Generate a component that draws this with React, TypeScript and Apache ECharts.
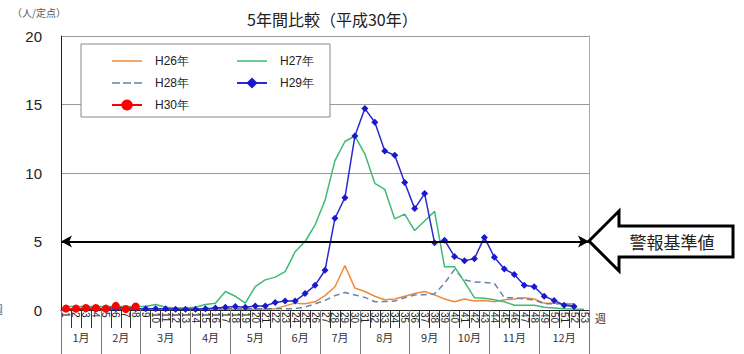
import React, { useEffect, useRef } from "react";
import * as echarts from "echarts";

const weeks = [
  "1","2","3","4","5","6","7","8","9","10","11","12","13","14","15","16","17","18","19","20",
  "21","22","23","24","25","26","27","28","29","30","31","32","33","34","35","36","37","38","39","40",
  "41","42","43","44","45","46","47","48","49","50","51","52","53",
];

const h26 = [
  0.05,0.05,0.05,0.05,0.05,0.05,0.05,0.05,0.05,0.05,0.05,0.05,0.05,0.05,0.05,0.05,0.05,0.05,0.05,0.05,
  0.05,0.1,0.3,0.5,0.45,0.6,1.05,1.7,3.25,1.6,1.35,1.0,0.75,0.8,1.0,1.2,1.35,1.1,0.8,0.6,
  0.8,0.65,0.7,0.6,0.75,0.8,0.9,0.8,0.5,0.5,0.45,0.45,null,
];
const h27 = [
  0.25,0.25,0.25,0.25,0.25,0.25,0.25,0.25,0.25,0.4,0.2,0.15,0.15,0.2,0.4,0.5,1.35,1.0,0.5,1.7,
  2.2,2.4,2.8,4.25,5.0,6.2,8.0,10.9,12.3,12.7,11.4,9.25,8.8,6.65,7.0,5.8,6.5,7.2,3.15,3.15,
  2.05,0.9,0.85,0.75,0.6,0.35,0.35,0.35,0.2,0.15,0.1,0.07,0.05,
];
const h28 = [
  0.1,0.1,0.1,0.1,0.1,0.1,0.1,0.1,0.1,0.1,0.1,0.1,0.1,0.1,0.1,0.1,0.1,0.1,0.1,0.1,
  0.1,0.1,0.1,0.1,0.22,0.45,0.7,1.05,1.28,1.1,0.92,0.6,0.62,0.65,0.9,1.1,1.12,1.18,1.95,2.95,
  2.2,2.05,2.0,1.95,0.9,0.9,0.8,0.75,0.45,0.45,0.45,0.3,null,
];
const h29 = [
  0.1,0.05,0.05,0.05,0.05,0.1,0.05,0.1,0.1,0.1,0.1,0.05,0.05,0.05,0.1,0.15,0.2,0.25,0.2,0.3,
  0.3,0.55,0.65,0.65,1.2,1.8,2.9,6.7,8.2,12.7,14.7,13.7,11.6,11.3,9.3,7.4,8.5,4.9,5.1,3.9,
  3.6,3.75,5.3,3.85,3.0,2.6,1.8,1.7,1.0,0.7,0.35,0.25,null,
];
const h30 = [0.1,0.1,0.15,0.15,0.1,0.3,0.07,0.25];

const monthLabels = ["1月","2月","3月","4月","5月","6月","7月","8月","9月","10月","11月","12月"];
const monthBounds = [0,4,8,13,17,22,26,30,35,39,43,48,53];
const monthCenters = [2,6,10.5,15,19.5,24,28,32.5,37,41,45.5,50.5];

const yTicks = [0,5,10,15,20];
const alertLevel = 5;

const seriesNames = ["H26年","H27年","H28年","H29年","H30年"];

const solidIcon = "path://M0,0 L30,0 L30,1.5 L0,1.5 Z";
const dashIcon = "path://M0,0 L8,0 L8,1.5 L0,1.5 Z M11,0 L19,0 L19,1.5 L11,1.5 Z M22,0 L30,0 L30,1.5 L22,1.5 Z";

export default function App() {
  const ref = useRef<HTMLDivElement>(null);
  useEffect(() => {
    if (!ref.current) return;
    const chart = echarts.init(ref.current, null, { renderer: "svg" });
    const numFont = "Liberation Sans";
    const jpFont = "Noto Sans CJK JP";
    const legendText = { fontFamily: numFont, fontSize: 12, color: "#222", padding: [0, 0, 0, 8] };
    chart.setOption({
      animation: false,
      backgroundColor: "#ffffff",
      title: {
        text: "5年間比較（平成30年）",
        left: 242,
        top: 6,
        textStyle: { fontFamily: jpFont, fontSize: 16, fontWeight: "normal", color: "#222" },
      },
      grid: { left: 61, right: 155, top: 36, bottom: 44, containLabel: false },
      legend: [
        {
          data: [
            { name: seriesNames[0], icon: solidIcon },
            { name: seriesNames[2], icon: dashIcon },
            { name: seriesNames[4] },
          ],
          orient: "vertical",
          left: 106,
          top: 50,
          itemWidth: 30,
          itemHeight: 14,
          itemGap: 10,
          z: 10,
          textStyle: legendText,
        },
        {
          data: [
            { name: seriesNames[1], icon: solidIcon },
            { name: seriesNames[3] },
          ],
          orient: "vertical",
          left: 231,
          top: 50,
          itemWidth: 30,
          itemHeight: 14,
          itemGap: 10,
          z: 10,
          textStyle: legendText,
        },
      ],
      xAxis: [
        {
          type: "category",
          data: weeks,
          boundaryGap: true,
          position: "bottom",
          name: "週",
          nameLocation: "end",
          nameGap: 6,
          nameTextStyle: { fontFamily: jpFont, fontSize: 11, color: "#333", verticalAlign: "top", padding: [2, 0, 0, 0] },
          axisLine: { show: true, lineStyle: { color: "#222", width: 1 } },
          axisTick: { show: true, interval: 0, length: 18, lineStyle: { color: "#333" } },
          axisLabel: {
            interval: 0,
            rotate: -90,
            margin: 2,
            fontFamily: numFont,
            fontSize: 10,
            color: "#222",
          },
          splitLine: { show: false },
        },
        {
          type: "value",
          min: 0,
          max: 53,
          position: "bottom",
          axisLine: { show: false },
          splitLine: { show: false },
          axisTick: {
            show: true,
            customValues: monthBounds,
            length: 44,
            lineStyle: { color: "#777" },
          },
          axisLabel: {
            show: true,
            customValues: monthCenters,
            margin: 21,
            fontFamily: jpFont,
            fontSize: 11,
            color: "#333",
            formatter: (v: number) => {
              const i = monthCenters.indexOf(v);
              return i >= 0 ? monthLabels[i] : "";
            },
          },
        },
      ],
      yAxis: [
        {
          type: "value",
          min: yTicks[0],
          max: yTicks[yTicks.length - 1],
          interval: 5,
          axisLine: { show: true, lineStyle: { color: "#222" } },
          axisTick: { show: false },
          axisLabel: { fontFamily: numFont, fontSize: 15, color: "#222", margin: 19 },
          splitLine: { show: true, lineStyle: { color: "#999", width: 1 } },
        },
        {
          type: "value",
          min: 0,
          max: 20,
          interval: 5,
          position: "right",
          axisLine: { show: true, lineStyle: { color: "#aaa" } },
          axisTick: { show: false },
          axisLabel: { show: false },
          splitLine: { show: false },
        },
      ],
      series: [
        {
          name: seriesNames[0],
          type: "line",
          data: h26,
          symbol: "none",
          lineStyle: { color: "#ee8a3c", width: 1.5 },
          itemStyle: { color: "#ee8a3c" },
          z: 2,
          markLine: {
            silent: true,
            symbol: ["arrow", "arrow"],
            symbolSize: [9, 11],
            label: { show: false },
            lineStyle: { color: "#000", width: 2, type: "solid" },
            data: [{ yAxis: alertLevel }],
          },
        },
        {
          name: seriesNames[1],
          type: "line",
          data: h27,
          symbol: "none",
          lineStyle: { color: "#3dbb72", width: 1.5 },
          itemStyle: { color: "#3dbb72" },
          z: 3,
        },
        {
          name: seriesNames[2],
          type: "line",
          data: h28,
          symbol: "none",
          lineStyle: { color: "#6a80a8", width: 1.5, type: [6, 4] },
          itemStyle: { color: "#6a80a8" },
          z: 2,
        },
        {
          name: seriesNames[3],
          type: "line",
          data: h29,
          symbol: "diamond",
          symbolSize: 7,
          showSymbol: true,
          lineStyle: { color: "#2a2ad0", width: 1.5 },
          itemStyle: { color: "#1818cc" },
          z: 4,
        },
        {
          name: seriesNames[4],
          type: "line",
          data: h30,
          symbol: "circle",
          symbolSize: 8,
          showSymbol: true,
          lineStyle: { color: "#ff0000", width: 1.5 },
          itemStyle: { color: "#ff0000" },
          z: 5,
        },
      ],
      graphic: [
        {
          type: "rect",
          shape: { x: 81, y: 44, width: 249, height: 73 },
          style: { fill: "#ffffff", stroke: "#888", lineWidth: 1 },
          z: 6,
        },
        {
          type: "text",
          x: 12,
          y: 7,
          style: { text: "（人/定点）", fontFamily: jpFont, fontSize: 10, fill: "#555" },
        },
        {
          type: "text",
          x: -8,
          y: 303,
          style: { text: "週", fontFamily: jpFont, fontSize: 11, fill: "#666" },
        },
        {
          type: "polygon",
          shape: {
            points: [
              [589, 241], [619, 211], [619, 226], [733, 226],
              [733, 257], [619, 257], [619, 271],
            ],
          },
          style: { fill: "#ffffff", stroke: "#000", lineWidth: 3, lineJoin: "miter" },
          z: 10,
        },
        {
          type: "text",
          x: 672,
          y: 241,
          style: {
            text: "警報基準値",
            fontFamily: jpFont,
            fontSize: 17,
            fill: "#222",
            align: "center",
            verticalAlign: "middle",
          },
          z: 11,
        },
      ],
    });
    return () => chart.dispose();
  }, []);
  return <div ref={ref} style={{ width: 744, height: 354, position: "absolute", left: 0, top: 0 }} />;
}
